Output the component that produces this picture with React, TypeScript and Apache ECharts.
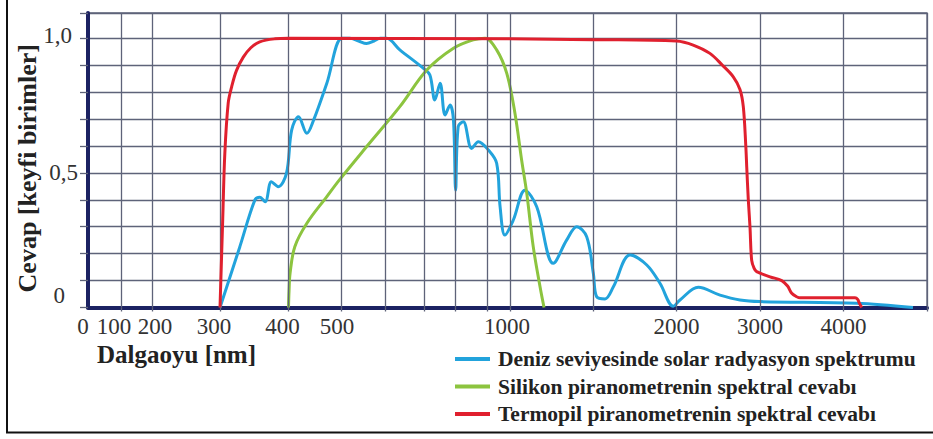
import React, { useEffect, useRef } from "react";
import * as echarts from "echarts";

// Break points of the stretched wavelength scale and their place along the x axis
const SCALE_NM = [0, 100, 200, 300, 400, 500, 600, 700, 800, 900, 1000, 1500, 2000, 3000, 4000, 5000];
const SCALE_POS = [0, 33, 64, 132, 200.5, 253, 297, 336, 367, 399, 422, 505, 588.5, 672, 755.5, 839];
const X_LABELS_NM = [0, 100, 200, 300, 400, 500, 1000, 2000, 3000, 4000];

// Solar spectrum at sea level (relative)
const SOLAR_NM = [300, 329, 351, 358, 366, 375, 385, 397, 406, 419, 435, 448, 473, 502, 520, 540, 558, 575, 589, 604, 638, 698, 719, 735, 752, 768, 784, 795, 802, 810, 826, 852, 873, 906, 942, 957, 978, 1020, 1090, 1161, 1261, 1342, 1402, 1462, 1502, 1522, 1572, 1622, 1722, 1822, 1901, 1981, 2042, 2261, 2521, 2760, 3000, 4158, 4832];
const SOLAR_VAL = [0, 0.226, 0.4, 0.41, 0.393, 0.467, 0.449, 0.498, 0.659, 0.709, 0.647, 0.697, 0.833, 1.0, 1.0, 0.99, 0.981, 0.99, 1.0, 1.0, 0.957, 0.889, 0.864, 0.771, 0.833, 0.715, 0.752, 0.697, 0.436, 0.672, 0.69, 0.591, 0.616, 0.585, 0.536, 0.374, 0.269, 0.325, 0.436, 0.374, 0.164, 0.251, 0.3, 0.263, 0.127, 0.04, 0.032, 0.077, 0.195, 0.158, 0.09, 0.005, 0.028, 0.075, 0.046, 0.028, 0.022, 0.016, 0];

// Silicon pyranometer response
const SILICON_NM = [400, 401, 403, 412, 435, 473, 497, 558, 638, 709, 795, 857, 894, 942, 986, 1030, 1070, 1101, 1140, 1181, 1205];
const SILICON_VAL = [0, 0.06, 0.127, 0.226, 0.313, 0.412, 0.474, 0.597, 0.746, 0.882, 0.963, 0.994, 1.0, 0.957, 0.87, 0.721, 0.548, 0.424, 0.226, 0.077, 0];

// Thermopile pyranometer response
const THERMO_NM = [300, 304, 307, 312, 317, 324, 334, 345, 358, 380, 400, 1000, 1500, 2000, 2200, 2400, 2550, 2680, 2760, 2800, 2830, 2841, 2860, 2880, 2900, 2930, 2960, 3120, 3260, 3330, 3380, 3440, 3480, 4138, 4170, 4190, 4218];
const THERMO_VAL = [0, 0.33, 0.57, 0.76, 0.82, 0.88, 0.93, 0.965, 0.987, 0.998, 1.0, 0.998, 0.995, 0.99, 0.975, 0.944, 0.9, 0.857, 0.81, 0.746, 0.6, 0.523, 0.4, 0.3, 0.176, 0.145, 0.133, 0.114, 0.1, 0.08, 0.053, 0.04, 0.036, 0.036, 0.03, 0.016, 0];

const SERIES_NAMES = [
  "Deniz seviyesinde solar radyasyon spektrumu",
  "Silikon piranometrenin spektral cevabı",
  "Termopil piranometrenin spektral cevabı",
];
const COLORS = ["#22a3dc", "#8cc43f", "#e0202e"];

const SERIF = "'Liberation Serif', 'DejaVu Serif', serif";
const GRID_COLOR = "#5e6379";
const AXIS_COLOR = "#1c2262";
const TICK_TEXT = "#333333";
const TICK_SIZE = 23;

function warp(nm: number): number {
  for (let i = 1; i < SCALE_NM.length; i++) {
    if (nm <= SCALE_NM[i]) {
      const t = (nm - SCALE_NM[i - 1]) / (SCALE_NM[i] - SCALE_NM[i - 1]);
      return SCALE_POS[i - 1] + t * (SCALE_POS[i] - SCALE_POS[i - 1]);
    }
  }
  return SCALE_POS[SCALE_POS.length - 1];
}

function nmAt(pos: number): number {
  const i = SCALE_POS.findIndex((p) => Math.abs(p - pos) < 0.01);
  return i >= 0 ? SCALE_NM[i] : NaN;
}

function pairs(xs: number[], ys: number[]) {
  return xs.map((x, i) => [warp(x), ys[i]]);
}

// label nudges so the crowded low-wavelength labels do not collide
const X_LABEL_STYLE: Record<number, string> = {
  0: "a",
  100: "b",
  200: "c",
  300: "d",
  400: "d",
  500: "e",
  1000: "f",
};

const tickRich = (padding: number[]) => ({
  fontFamily: SERIF,
  fontSize: TICK_SIZE,
  color: TICK_TEXT,
  padding,
});

export default function App() {
  const ref = useRef<HTMLDivElement>(null);

  useEffect(() => {
    if (!ref.current) return;
    const chart = echarts.init(ref.current, null, { renderer: "svg" });

    const lineSeries = [
      pairs(SOLAR_NM, SOLAR_VAL),
      pairs(SILICON_NM, SILICON_VAL),
      pairs(THERMO_NM, THERMO_VAL),
    ].map((data, i) => ({
      name: SERIES_NAMES[i],
      type: "line",
      data,
      showSymbol: false,
      smooth: 0.35,
      z: 3 + i,
      lineStyle: { color: COLORS[i], width: 3 },
      itemStyle: { color: COLORS[i] },
    }));

    chart.setOption({
      animation: false,
      backgroundColor: "#ffffff",
      grid: {
        left: 88,
        right: 6,
        top: 13,
        bottom: 131.5,
        show: true,
        borderColor: GRID_COLOR,
        borderWidth: 1.3,
      },
      xAxis: {
        type: "value",
        min: 0,
        max: warp(5000),
        splitLine: { show: false },
        axisLine: { show: true, lineStyle: { color: AXIS_COLOR, width: 4 } },
        axisTick: {
          show: true,
          length: 4,
          customValues: SCALE_NM.slice(1).map(warp),
          lineStyle: { color: GRID_COLOR, width: 1.3 },
        },
        axisLabel: {
          customValues: X_LABELS_NM.map(warp),
          margin: 7,
          fontFamily: SERIF,
          fontSize: TICK_SIZE,
          color: TICK_TEXT,
          formatter: (v: number) => {
            const nm = nmAt(v);
            const key = X_LABEL_STYLE[nm];
            return key ? `{${key}|${nm}}` : `${nm}`;
          },
          rich: {
            a: tickRich([0, 10, 0, 0]),
            b: tickRich([0, 14, 0, 0]),
            c: tickRich([0, 0, 0, 6]),
            d: tickRich([0, 12, 0, 0]),
            e: tickRich([0, 8, 0, 0]),
            f: tickRich([0, 6, 0, 0]),
          },
        },
        name: "Dalgaoyu [nm]",
        nameLocation: "middle",
        nameGap: 32,
        nameTextStyle: {
          fontFamily: SERIF,
          fontWeight: "bold",
          fontSize: 25,
          color: "#222222",
          padding: [0, 662, 0, 0],
        },
      },
      yAxis: {
        type: "value",
        min: 0,
        max: 1.094,
        interval: 0.1,
        splitLine: { show: true, lineStyle: { color: GRID_COLOR, width: 1.3 } },
        axisLine: { show: true, lineStyle: { color: AXIS_COLOR, width: 4 } },
        axisTick: { show: true, length: 8, lineStyle: { color: GRID_COLOR, width: 1.3 } },
        axisLabel: {
          margin: 10,
          fontFamily: SERIF,
          fontSize: TICK_SIZE,
          color: TICK_TEXT,
          formatter: (v: number) => {
            if (Math.abs(v) < 1e-6) return "{z|0}";
            if (Math.abs(v - 0.5) < 1e-6) return "0,5";
            if (Math.abs(v - 1) < 1e-6) return "{o|1,0}";
            return "";
          },
          rich: {
            z: tickRich([0, 13, 24, 0]),
            o: tickRich([0, 6, 6, 0]),
          },
        },
        name: "Cevap [keyfi birimler]",
        nameLocation: "middle",
        nameRotate: 90,
        nameGap: 48,
        nameMoveOverlap: false,
        nameTextStyle: {
          fontFamily: SERIF,
          fontWeight: "bold",
          fontSize: 26,
          color: "#222222",
          padding: [0, 16, 0, 0],
        },
      },
      legend: {
        data: SERIES_NAMES,
        orient: "vertical",
        left: 455,
        top: 348,
        padding: 0,
        icon: "rect",
        itemWidth: 35,
        itemHeight: 4,
        itemGap: 5.5,
        textStyle: {
          fontFamily: SERIF,
          fontWeight: "bold",
          fontSize: 21.5,
          lineHeight: 22,
          color: "#222222",
          padding: [0, 0, 0, 3],
        },
      },
      graphic: [
        {
          type: "polyline",
          silent: true,
          shape: { points: [[7, 0], [7, 432.5], [933, 432.5]] },
          style: { stroke: "#111111", lineWidth: 2, fill: null },
        },
      ],
      series: [
        {
          name: "grid-lines",
          type: "line",
          data: [],
          z: 1,
          silent: true,
          markLine: {
            silent: true,
            symbol: ["none", "none"],
            label: { show: false },
            lineStyle: { color: GRID_COLOR, width: 1.3, type: "solid" },
            data: SCALE_NM.slice(1).map((nm) => ({ xAxis: warp(nm) })),
          },
        },
        ...lineSeries,
      ],
    });

    return () => chart.dispose();
  }, []);

  return (
    <div
      ref={ref}
      style={{ position: "absolute", left: 0, top: 0, width: 933, height: 439 }}
    />
  );
}
